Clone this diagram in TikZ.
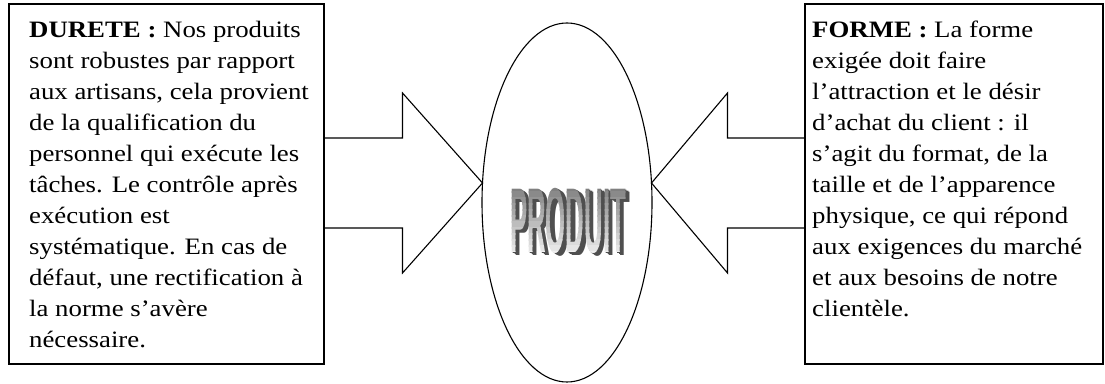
\documentclass[tikz,border=0pt]{standalone}
\usepackage{fontspec}
\setmainfont[FakeStretch=1.14]{Liberation Serif}
\newfontfamily\produitfont[FakeStretch=0.28]{Liberation Sans}
\usepackage{tikz}
\usetikzlibrary{shapes.geometric, calc, positioning}
\usepackage{xcolor}
\definecolor{outline}{HTML}{000000}
\definecolor{extrude}{HTML}{4F4F4F}

\begin{document}
\begin{tikzpicture}[x=1pt, y=1pt,
    calloutbox/.style={draw=outline, line width=1.1pt, outer sep=0pt, inner sep=0pt, anchor=north west},
    callout/.style={draw=outline, line width=1.1pt, line join=miter},
    bodytext/.style={anchor=north west, inner sep=0pt, align=left, font=\fontsize{23.5}{31}\selectfont},
    wordart/.style={inner sep=0pt, font=\produitfont\bfseries\fontsize{92}{92}\selectfont}]
  \useasboundingbox (0,0) rectangle (1105,383);

  % Produit
  \node[ellipse, draw=outline, line width=1.1pt, minimum width=170pt, minimum height=359pt, inner sep=0pt, outer sep=0pt] (produit) at (567,180.5) {};
  \foreach \s in {1,...,3}
    \node[wordart, text=extrude] (relief\s) at ($(produit.center)+(1+1.5*\s,-18.5-1*\s)$) {PRODUIT};
  \foreach \i in {0,...,11} {
    \pgfmathsetmacro\greylevel{50-44*\i/11}
    \begin{scope}
      \clip (470,{197-6*\i}) rectangle (660,{197-6*(\i+1)-0.3});
      \node[wordart, text=black!\greylevel] (lettre\i) at ($(produit.center)+(1,-18.5)$) {PRODUIT};
    \end{scope}
  }

  % Durete
  \node[calloutbox, minimum width=315pt, minimum height=360pt] (durete) at (9,379) {};
  \node[bodytext] (dureteTexte) at ([shift={(20,-17)}]durete.north west) {\textbf{DURETE :} Nos produits\\
    sont robustes par rapport\\
    aux artisans, cela provient\\
    de la qualification du\\
    personnel qui exécute les\\
    tâches. Le contrôle après\\
    exécution est\\
    systématique. En cas de\\
    défaut, une rectification à\\
    la norme s’avère\\
    nécessaire.};

  % Forme
  \node[calloutbox, minimum width=298pt, minimum height=360pt] (forme) at (805,379) {};
  \node[bodytext] (formeTexte) at ([shift={(7,-17)}]forme.north west) {\textbf{FORME :} La forme\\
    exigée doit faire\\
    l’attraction et le désir\\
    d’achat du client : il\\
    s’agit du format, de la\\
    taille et de l’apparence\\
    physique, ce qui répond\\
    aux exigences du marché\\
    et aux besoins de notre\\
    clientèle.};

  % Fleches vers le produit
  \coordinate (pointeG) at (produit.167);
  \coordinate (pointeD) at (produit.13);
  \draw[callout] (durete.east |- pointeG) ++(0,45) -| ($(pointeG)+(-80,90)$) -- (pointeG) -- ++(-80,-90) |- ($(durete.east |- pointeG)+(0,-45)$);
  \draw[callout] (forme.west |- pointeD) ++(0,45) -| ($(pointeD)+(76,90)$) -- (pointeD) -- ++(76,-90) |- ($(forme.west |- pointeD)+(0,-45)$);
\end{tikzpicture}
\end{document}
